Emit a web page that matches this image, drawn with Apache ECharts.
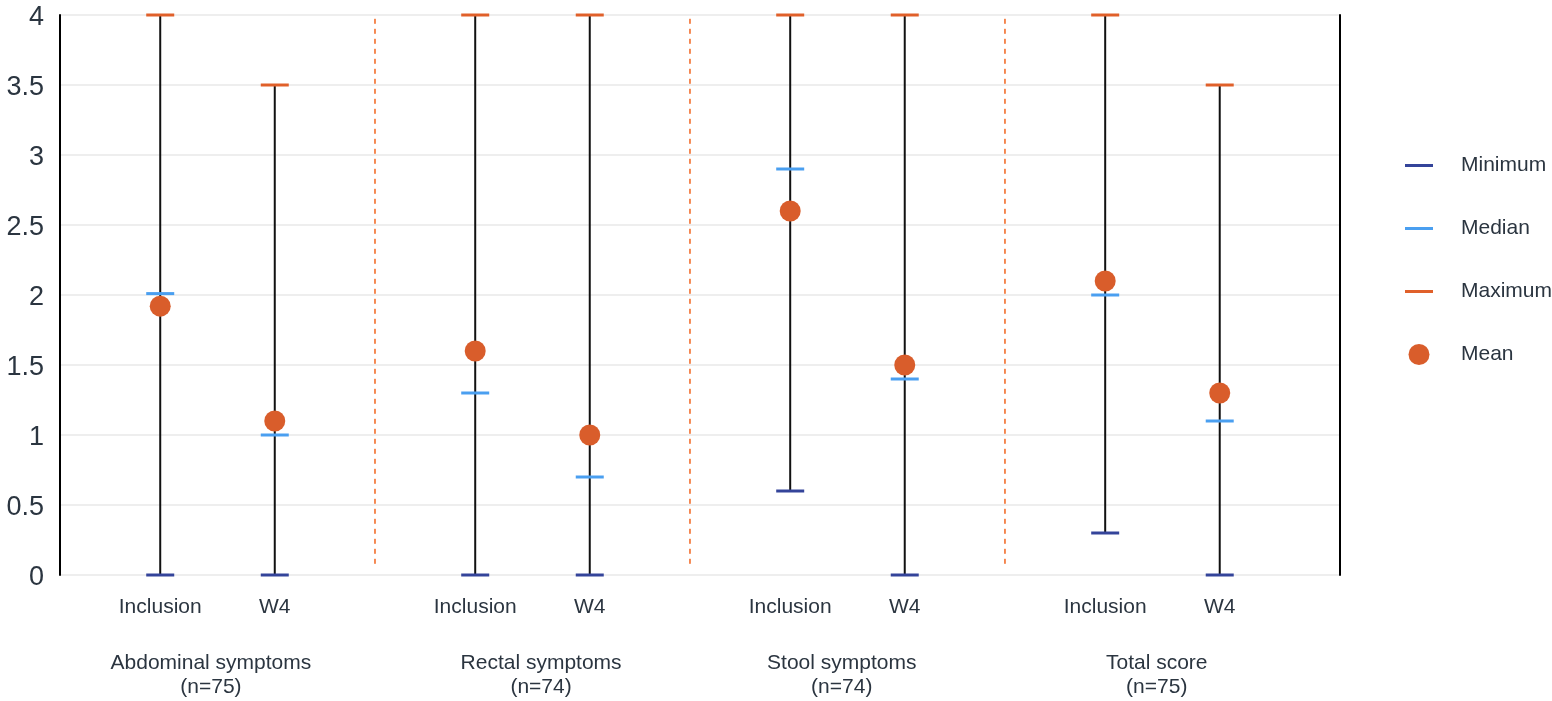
<!DOCTYPE html>
<html>
<head>
<meta charset="utf-8">
<script src="https://cdn.jsdelivr.net/npm/echarts@6/dist/echarts.min.js"></script>
<style>
html,body{margin:0;padding:0;background:#fff;}
#chart{width:1552px;height:701px;}
</style>
</head>
<body>
<div id="chart"></div>
<script>
// ---- data ----
const groups = ['Abdominal symptoms\n(n=75)', 'Rectal symptoms\n(n=74)', 'Stool symptoms\n(n=74)', 'Total score\n(n=75)'];
const timepoints = ['Inclusion', 'W4'];
// values listed per group: [Inclusion, W4]
const minimumValues = [0, 0,   0, 0,   0.6, 0,   0.3, 0];
const medianValues  = [2.01, 1.0,   1.3, 0.7,   2.9, 1.4,   2.0, 1.1];
const maximumValues = [4, 3.5,   4, 4,   4, 4,   4, 3.5];
const meanValues    = [1.92, 1.1,   1.6, 1.0,   2.6, 1.5,   2.1, 1.3];
const yTicks = [0, 0.5, 1, 1.5, 2, 2.5, 3, 3.5, 4];

// ---- layout (axis units) ----
const groupWidth = 11;
const firstOffset = 3.5;
const pointGap = 4;
const groupLabelOffsets = [5.27, 5.8, 5.3, 5.3];
const xMax = 44.7;
const sepBottom = 0.08;

const xPos = [];
const xLabelText = {};
groups.forEach((g, gi) => {
  timepoints.forEach((t, ti) => {
    const x = gi * groupWidth + firstOffset + ti * pointGap;
    xPos.push(x);
    xLabelText[x] = t;
  });
});
const groupPos = groups.map((g, gi) => gi * groupWidth + groupLabelOffsets[gi]);
const groupLabelText = {};
groupPos.forEach((p, i) => groupLabelText[p] = groups[i]);
const separators = groups.slice(1).map((g, gi) => (gi + 1) * groupWidth);

const textColor = '#2b3540';
const font = 'Liberation Sans, Arial, sans-serif';
const colMin = '#34449a', colMed = '#4a9ff0', colMax = '#e0602a', colMean = '#d95d2b';

const lineIcon = 'path://M0,0 M0,9 L28,9 L28,12 L0,12 Z M28,21';

const chart = echarts.init(document.getElementById('chart'));
chart.setOption({
  animation: false,
  textStyle: { fontFamily: font },
  grid: { left: 60, right: 212, top: 15, bottom: 126, containLabel: false },
  legend: {
    orient: 'vertical',
    left: 1405,
    top: 155,
    padding: 0,
    itemWidth: 28,
    itemHeight: 21,
    itemGap: 42,
    textStyle: { fontSize: 21, color: textColor, fontFamily: font, padding: [0, 0, 0, 23] },
    data: [
      { name: 'Minimum', icon: lineIcon },
      { name: 'Median', icon: lineIcon },
      { name: 'Maximum', icon: lineIcon },
      { name: 'Mean', icon: 'circle' }
    ]
  },
  xAxis: [
    {
      type: 'value', min: 0, max: xMax, position: 'bottom',
      axisLine: { show: false }, axisTick: { show: false }, splitLine: { show: false },
      axisLabel: {
        customValues: xPos, fontSize: 21, color: textColor, margin: 22,
        formatter: v => xLabelText[v] || ''
      }
    },
    {
      type: 'value', min: 0, max: xMax, position: 'bottom',
      axisLine: { show: false }, axisTick: { show: false }, splitLine: { show: false },
      axisLabel: {
        customValues: groupPos, fontSize: 21, color: textColor, margin: 76, lineHeight: 24,
        formatter: v => groupLabelText[v] || ''
      }
    }
  ],
  yAxis: [
    {
      type: 'value', min: 0, max: 4, interval: 0.5,
      axisLine: { show: true, onZero: false, lineStyle: { color: '#000', width: 2 } },
      axisTick: { show: false },
      axisLabel: {
        color: textColor, margin: 16,
        formatter: v => '{v|' + v + '}',
        rich: { v: { fontSize: 27, color: textColor, fontFamily: font, padding: [6, 0, 0, 0] } }
      },
      splitLine: { show: true, lineStyle: { color: '#eeeeee', width: 2 } }
    },
    {
      type: 'value', min: 0, max: 4, interval: 0.5, position: 'right',
      axisLine: { show: true, onZero: false, lineStyle: { color: '#000', width: 2 } },
      axisTick: { show: false }, axisLabel: { show: false }, splitLine: { show: false }
    }
  ],
  series: [
    {
      type: 'custom', name: 'separators', silent: true, z: 1,
      data: separators.map(s => [s, sepBottom, 4]),
      renderItem: (params, api) => {
        const a = api.coord([api.value(0), api.value(1)]);
        const b = api.coord([api.value(0), api.value(2)]);
        return { type: 'line', shape: { x1: a[0], y1: a[1], x2: b[0], y2: b[1] },
          style: { stroke: '#f2641e', lineWidth: 1.5, lineDash: [5, 5] } };
      }
    },
    {
      type: 'custom', name: 'range', silent: true, z: 2,
      data: xPos.map((x, i) => [x, minimumValues[i], maximumValues[i]]),
      renderItem: (params, api) => {
        const a = api.coord([api.value(0), api.value(1)]);
        const b = api.coord([api.value(0), api.value(2)]);
        return { type: 'line', shape: { x1: a[0], y1: a[1], x2: b[0], y2: b[1] },
          style: { stroke: '#111', lineWidth: 2 } };
      }
    },
    {
      type: 'scatter', name: 'Minimum', z: 3, symbol: 'rect', symbolSize: [28, 3],
      itemStyle: { color: colMin, opacity: 1 },
      data: xPos.map((x, i) => [x, minimumValues[i]])
    },
    {
      type: 'scatter', name: 'Median', z: 3, symbol: 'rect', symbolSize: [28, 3],
      itemStyle: { color: colMed, opacity: 1 },
      data: xPos.map((x, i) => [x, medianValues[i]])
    },
    {
      type: 'scatter', name: 'Maximum', z: 3, symbol: 'rect', symbolSize: [28, 3],
      itemStyle: { color: colMax, opacity: 1 },
      data: xPos.map((x, i) => [x, maximumValues[i]])
    },
    {
      type: 'scatter', name: 'Mean', z: 4, symbol: 'circle', symbolSize: 21,
      itemStyle: { color: colMean, opacity: 1 },
      data: xPos.map((x, i) => [x, meanValues[i]])
    }
  ]
});
</script>
</body>
</html>
